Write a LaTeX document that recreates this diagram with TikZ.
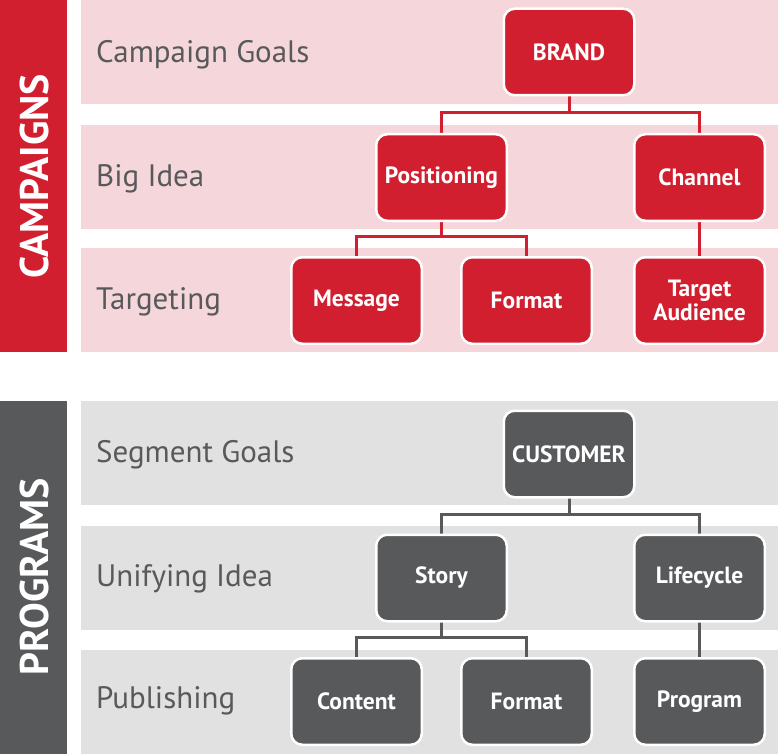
\documentclass[tikz,border=0pt]{standalone}
\usepackage{fontspec}
\setmainfont{PT Sans}
\definecolor{cred}{HTML}{D11F30}
\definecolor{cpink}{HTML}{F5D6DA}
\definecolor{cdark}{HTML}{58595B}
\definecolor{clight}{HTML}{E1E1E1}
\pgfdeclarelayer{bands}
\pgfdeclarelayer{wires}
\pgfsetlayers{bands,wires,main}
\begin{document}
\begin{tikzpicture}[x=1pt,y=-1pt,
  box/.style={rounded corners=11pt, draw=white, line width=2.5pt,
    minimum width=130.5pt, minimum height=86.5pt, inner sep=0pt,
    align=center, text=white, font=\bfseries\fontsize{23.5}{24.5}\selectfont},
  redbox/.style={box, fill=cred},
  graybox/.style={box, fill=cdark},
  rowlabel/.style={anchor=base west, inner sep=0pt, text=cdark,
    font=\fontsize{31}{33}\selectfont},
  sidelabel/.style={rotate=90, text=white, inner sep=0pt,
    font=\bfseries\fontsize{40}{40}\selectfont},
  wire/.style={line width=3pt},
  redwire/.style={wire, draw=cred},
  graywire/.style={wire, draw=cdark}]
\useasboundingbox (0,0) rectangle (778,754);
\begin{pgfonlayer}{bands}
  \fill[white] (0,0) rectangle (778,754);
  \fill[cred] (0,0) rectangle (67,352);
  \fill[cpink] (81,0) rectangle (778,104);
  \fill[cpink] (81,125) rectangle (778,229);
  \fill[cpink] (81,248) rectangle (778,352);
  \fill[cdark] (0,401) rectangle (67,754);
  \fill[clight] (81,401) rectangle (778,505);
  \fill[clight] (81,526) rectangle (778,630);
  \fill[clight] (81,650) rectangle (778,754);
\end{pgfonlayer}
% side labels
\node[sidelabel] (camp) at (34,176) {CAMPAIGNS};
\node[sidelabel] (prog) at (34,577) {PROGRAMS};
% row labels
\node[rowlabel] (l1) at (96,63) {Campaign Goals};
\node[rowlabel] (l2) at (96,186) {Big Idea};
\node[rowlabel] (l3) at (96,309) {Targeting};
\node[rowlabel] (l4) at (96,462) {Segment Goals};
\node[rowlabel] (l5) at (96,586) {Unifying Idea};
\node[rowlabel] (l6) at (96,708) {Publishing};
% campaign nodes
\node[redbox] (brand) at (569,52) {BRAND};
\node[redbox] (pos) at (441.5,177.5) {Positioning};
\node[redbox] (chan) at (699.5,177.5) {Channel};
\node[redbox] (msg) at (356.5,300.5) {Message};
\node[redbox] (fmt) at (526.5,300.5) {Format};
\node[redbox] (ta) at (699.5,300.5) {Target\\Audience};
% program nodes
\node[graybox] (cust) at (569,454) {CUSTOMER};
\node[graybox] (story) at (441.5,578) {Story};
\node[graybox] (life) at (699.5,578) {Lifecycle};
\node[graybox] (cont) at (356.5,701.5) {Content};
\node[graybox] (fmt2) at (526.5,701.5) {Format};
\node[graybox] (progr) at (699.5,701.5) {Program};
\begin{pgfonlayer}{wires}
  \draw[redwire] (brand.center) |- (pos.center |- 0,113) -- (pos.center);
  \draw[redwire] (brand.center |- 0,113) -| (chan.center);
  \draw[redwire] (pos.center) |- (msg.center |- 0,236) -- (msg.center);
  \draw[redwire] (pos.center |- 0,236) -| (fmt.center);
  \draw[redwire] (chan.center) -- (ta.center);
  \draw[graywire] (cust.center) |- (story.center |- 0,514) -- (story.center);
  \draw[graywire] (cust.center |- 0,514) -| (life.center);
  \draw[graywire] (story.center) |- (cont.center |- 0,637) -- (cont.center);
  \draw[graywire] (story.center |- 0,637) -| (fmt2.center);
  \draw[graywire] (life.center) -- (progr.center);
\end{pgfonlayer}
\end{tikzpicture}
\end{document}
